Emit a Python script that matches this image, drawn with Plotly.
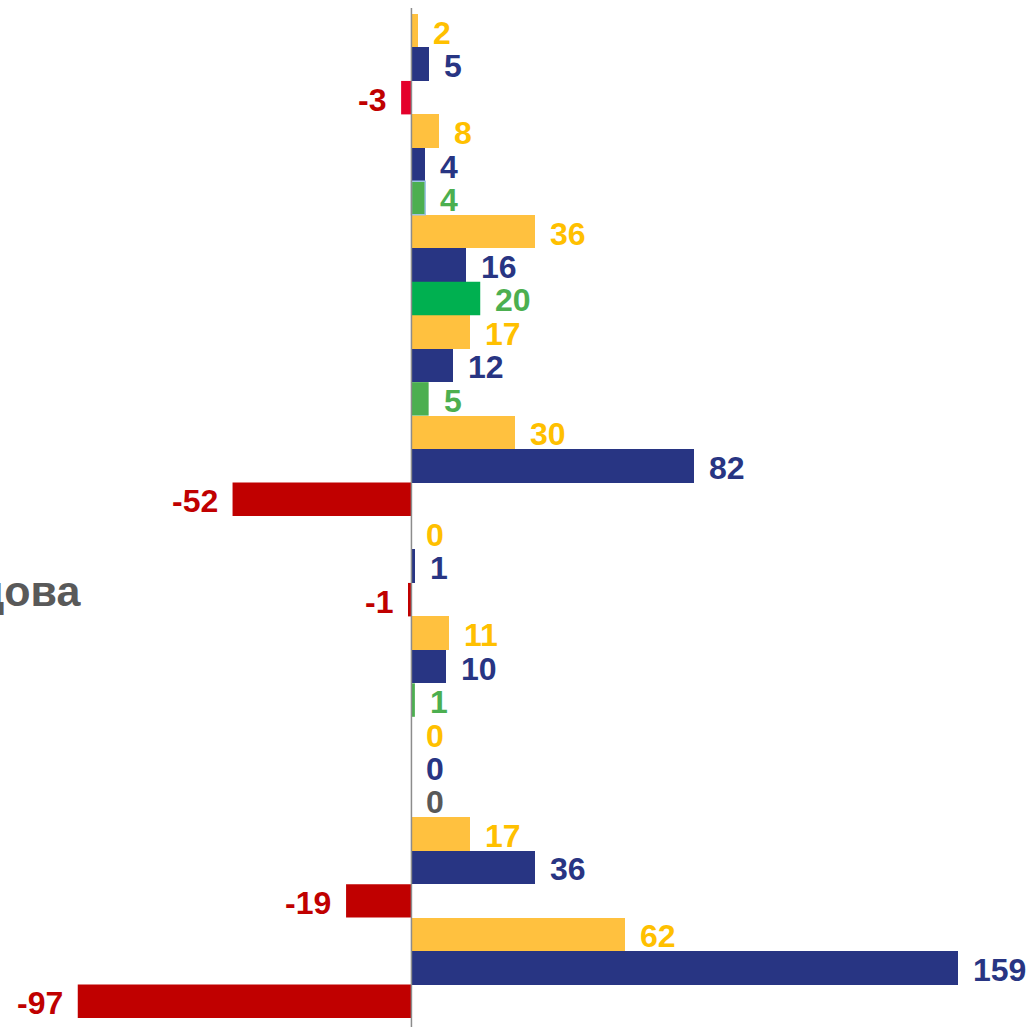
import plotly.graph_objects as go

# ---- data (top to bottom) ----
categories = ["1", "2", "3", "4", "5", "6", "7", "8", "9", "10"]
series_a = [2, 8, 36, 17, 30, 0, 11, 0, 17, 62]        # yellow
series_b = [5, 4, 16, 12, 82, 1, 10, 0, 36, 159]       # navy
series_c = [-3, 4, 20, 5, -52, -1, 1, 0, -19, -97]     # change (red / green / grey)
side_label = "дова"

# ---- styles ----
YEL_BAR, YEL_TXT = "#FFC13F", "#FFC000"
NAVY = "#283583"
c_bar_colors = ["#E4002B", "#4CAF50", "#00B050", "#4CAF50", "#C00000",
                "#C00000", "#4CAF50", "#595959", "#C00000", "#C00000"]
c_txt_colors = ["#C00000", "#4CAF50", "#4CAF50", "#4CAF50", "#C00000",
                "#C00000", "#4CAF50", "#595959", "#C00000", "#C00000"]
c_line_colors = ["rgba(0,0,0,0)", "#9DC3E6"] + ["rgba(0,0,0,0)"] * 8
c_line_widths = [0, 1.5] + [0] * 8

FONT = "Liberation Sans, Arial, sans-serif"
W, H = 1031, 1027

fig = go.Figure()
fig.add_trace(go.Bar(y=categories, x=series_a, orientation="h",
                     marker=dict(color=YEL_BAR, line=dict(width=0)), name="A"))
fig.add_trace(go.Bar(y=categories, x=series_b, orientation="h",
                     marker=dict(color=NAVY, line=dict(width=0)), name="B"))
fig.add_trace(go.Bar(y=categories, x=series_c, orientation="h",
                     marker=dict(color=c_bar_colors,
                                 line=dict(color=c_line_colors, width=c_line_widths)),
                     name="C"))

annotations = []
offsets = [-1/3, 0, 1/3]
for i in range(len(categories)):
    vals = [series_a[i], series_b[i], series_c[i]]
    cols = [YEL_TXT, NAVY, c_txt_colors[i]]
    for k in range(3):
        v = vals[k]
        pos = v >= 0
        annotations.append(dict(
            x=v, y=i + offsets[k], xref="x", yref="y",
            text=str(v), showarrow=False,
            xanchor="left" if pos else "right", yanchor="middle",
            xshift=13 if pos else -13, yshift=-2,
            font=dict(family=FONT, size=32, color=cols[k], weight="bold"),
        ))

annotations.append(dict(
    x=83 / W, y=0.4253, xref="paper", yref="paper", xanchor="right", yanchor="middle",
    text=side_label, showarrow=False,
    font=dict(family=FONT, size=43, color="#595959", weight="bold"),
))

n = len(categories)
fig.update_layout(
    width=W, height=H, autosize=False,
    margin=dict(l=0, r=0, t=14, b=9, pad=0),
    paper_bgcolor="white", plot_bgcolor="white",
    barmode="group", bargap=0, bargroupgap=0,
    showlegend=False,
    xaxis=dict(range=[-119.6, 180.1], visible=False, fixedrange=True),
    yaxis=dict(type="category", range=[n - 0.5, -0.5], visible=False, fixedrange=True),
    annotations=annotations,
    shapes=[dict(type="line", xref="x", yref="paper", x0=0, x1=0,
                 y0=-0.02, y1=1.006, line=dict(color="#8C8C8C", width=1.5),
                 layer="above")],
)

fig.write_html("out.html",
               config={"displayModeBar": False, "staticPlot": True},
               post_script="document.body.style.margin='0';document.body.style.overflow='hidden';")
